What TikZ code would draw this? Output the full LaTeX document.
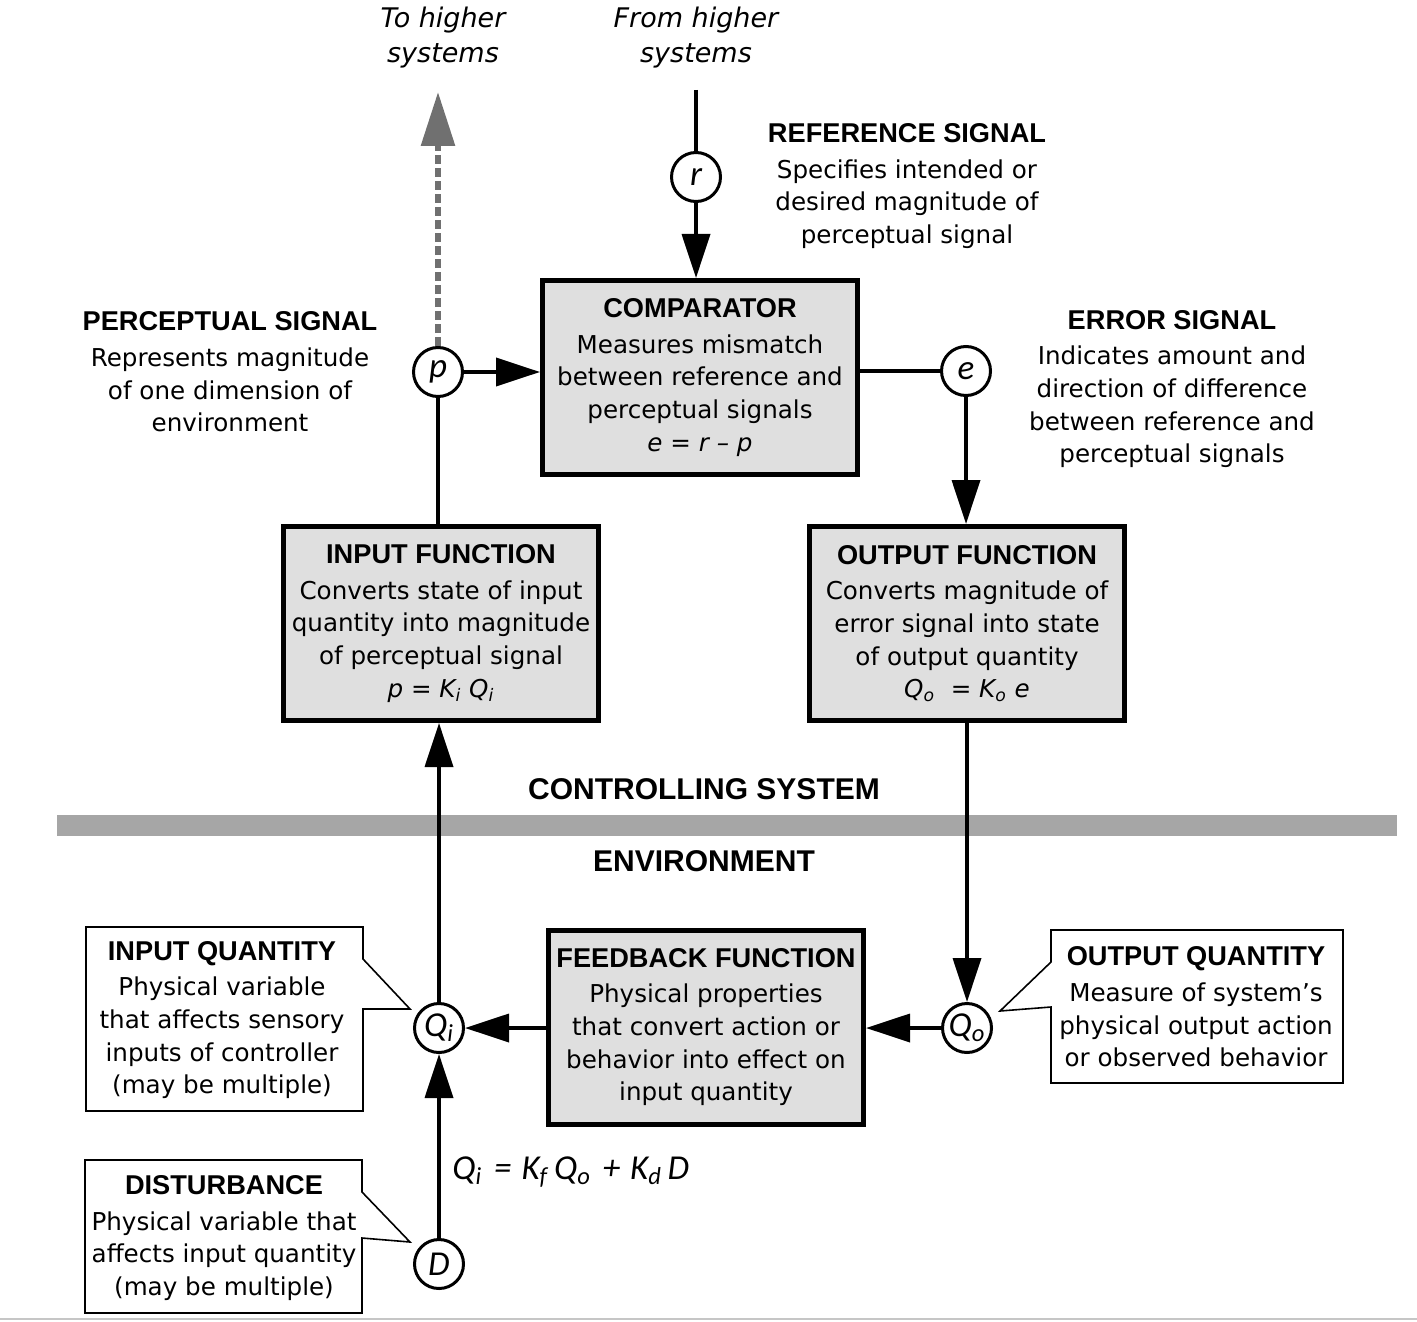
\documentclass[tikz,border=0pt]{standalone}
\usepackage{fontspec}
\setmainfont{DejaVu Sans}
\newfontfamily\headfont{Liberation Sans}
\newfontfamily\carfont{Carlito}
\usetikzlibrary{arrows.meta,calc}
\definecolor{boxgray}{HTML}{DFDFDF}
\definecolor{bargray}{HTML}{A6A6A6}
\definecolor{dashgray}{HTML}{707070}
\newcommand{\hd}[1]{{\headfont\bfseries\fontsize{13.6}{16.3}\selectfont #1}}
\tikzset{
  fbox/.style={draw, line width=2.5pt, fill=boxgray, minimum width=157.5pt, minimum height=97pt, align=center, inner sep=0pt, font=\fontsize{12.3}{16.3}\selectfont},
  sig/.style={circle, draw, line width=1.5pt, fill=white, minimum size=24.5pt, inner sep=0pt, font=\carfont\itshape\fontsize{17.5}{17.5}\selectfont},
  conn/.style={line width=1.8pt},
  tip/.style={-{Triangle[length=22pt,width=14pt]}},
  lbl/.style={align=center, inner sep=0pt, font=\fontsize{12.3}{16.3}\selectfont},
  callout/.style={draw, line width=0.8pt, fill=white},
  higher/.style={align=center, inner sep=0pt, font=\itshape\fontsize{13.5}{17.5}\selectfont},
  region/.style={inner sep=0pt, font=\headfont\bfseries\fontsize{15}{15}\selectfont}
}
\begin{document}
\begin{tikzpicture}[x=0.5pt,y=-0.5pt]
\useasboundingbox (0,0) rectangle (1417,1321);
% bottom screenshot edge
\draw[gray!45, line width=0.8pt] (0,1319) -- (1417,1319);
% gray bar
\fill[bargray] (57,815) rectangle (1397,836);
\node[region] (ctrl) at (704,789) {CONTROLLING SYSTEM};
\node[region] (env) at (704,861) {ENVIRONMENT};

% boxes
\node[fbox] (comp) at (700,377.5) {\hd{COMPARATOR}\\[1.5pt]Measures mismatch\\between reference and\\perceptual signals\\\textit{e = r -- p}};
\node[fbox] (inf) at (441,623.5) {\hd{INPUT FUNCTION}\\[1.5pt]Converts state of input\\quantity into magnitude\\of perceptual signal\\\textit{p = K\textsubscript{i} Q\textsubscript{i}}};
\node[fbox] (outf) at (967,623.5) {\hd{OUTPUT FUNCTION}\\[1.5pt]Converts magnitude of\\error signal into state\\of output quantity\\\textit{Q\textsubscript{o} \ = K\textsubscript{o} e}};
\node[fbox] (fb) at (706,1027) {\hd{FEEDBACK FUNCTION}\\[1.5pt]Physical properties\\that convert action or\\behavior into effect on\\input quantity};

% signal circles
\node[sig] (r) at (696,177) {r};
\node[sig] (p) at (438,372) {p};
\node[sig] (e) at (966,371) {e};
\node[sig] (Qi) at (439,1028) {Q\textsubscript{i}};
\node[sig] (Qo) at (967,1028) {Q\textsubscript{o}};
\node[sig] (D) at (439,1264) {D};

\coordinate (rtop) at (696,90);
\coordinate (ptop) at (438,92);

% connectors
\draw[conn] (rtop) -- (r);
\draw[conn,tip] (r) -- (r |- comp.north);
\draw[conn,tip] (p) -- (p -| comp.west);
\draw[conn] (e) -- (e -| comp.east);
\draw[conn,tip] (e) -- (e |- outf.north);
\draw[conn] (p) -- (p |- inf.north);
\draw[dashgray, line width=3pt, dash pattern=on 4.5pt off 2pt, -{Triangle[length=27pt,width=16.5pt]}] (p) -- (ptop);
\draw[conn,tip] (Qi) -- (Qi |- inf.south);
\draw[conn,tip] (Qo |- outf.south) -- (Qo);
\draw[conn,tip] (Qi -| fb.west) -- (Qi);
\draw[conn,tip] (Qo) -- (Qo -| fb.east);
\draw[conn,tip] (D) -- (Qi);

% labels
\node[higher] (toh) at (443,38) {To higher\\systems};
\node[higher] (fromh) at (696,38) {From higher\\systems};
\node[lbl] (refl) at (907,186) {\hd{REFERENCE SIGNAL}\\[1.5pt]Specifies intended or\\desired magnitude of\\perceptual signal};
\node[lbl] (percl) at (230,372) {\hd{PERCEPTUAL SIGNAL}\\[1.5pt]Represents magnitude\\of one dimension of\\environment};
\node[lbl] (errl) at (1172,389) {\hd{ERROR SIGNAL}\\[1.5pt]Indicates amount and\\direction of difference\\between reference and\\perceptual signals};
\node[anchor=west, inner sep=0pt, font=\carfont\itshape\fontsize{17.5}{17.5}\selectfont] (eq) at (452,1172) {Q\textsubscript{i}\hspace{2pt} = \hspace{1pt}K\textsubscript{f}\,Q\textsubscript{o}\hspace{2pt} + \hspace{1pt}K\textsubscript{d}\,D};

% callouts
\draw[callout] (86,927) -- (363,927) -- (363,959) -- (410,1009) -- (363,1009) -- (363,1111) -- (86,1111) -- cycle;
\node[lbl] (iql) at (222,1020) {\hd{INPUT QUANTITY}\\[1.5pt]Physical variable\\that affects sensory\\inputs of controller\\(may be multiple)};
\draw[callout] (85,1160) -- (362,1160) -- (362,1192) -- (410,1242) -- (362,1238) -- (362,1313) -- (85,1313) -- cycle;
\node[lbl] (dl) at (224,1238) {\hd{DISTURBANCE}\\[1.5pt]Physical variable that\\affects input quantity\\(may be multiple)};
\draw[callout] (1051,930) -- (1343,930) -- (1343,1083) -- (1051,1083) -- (1051,1007) -- (1000,1011) -- (1051,962) -- cycle;
\node[lbl] (oql) at (1196,1007) {\hd{OUTPUT QUANTITY}\\[1.5pt]Measure of system's\\physical output action\\or observed behavior};
\end{tikzpicture}
\end{document}
